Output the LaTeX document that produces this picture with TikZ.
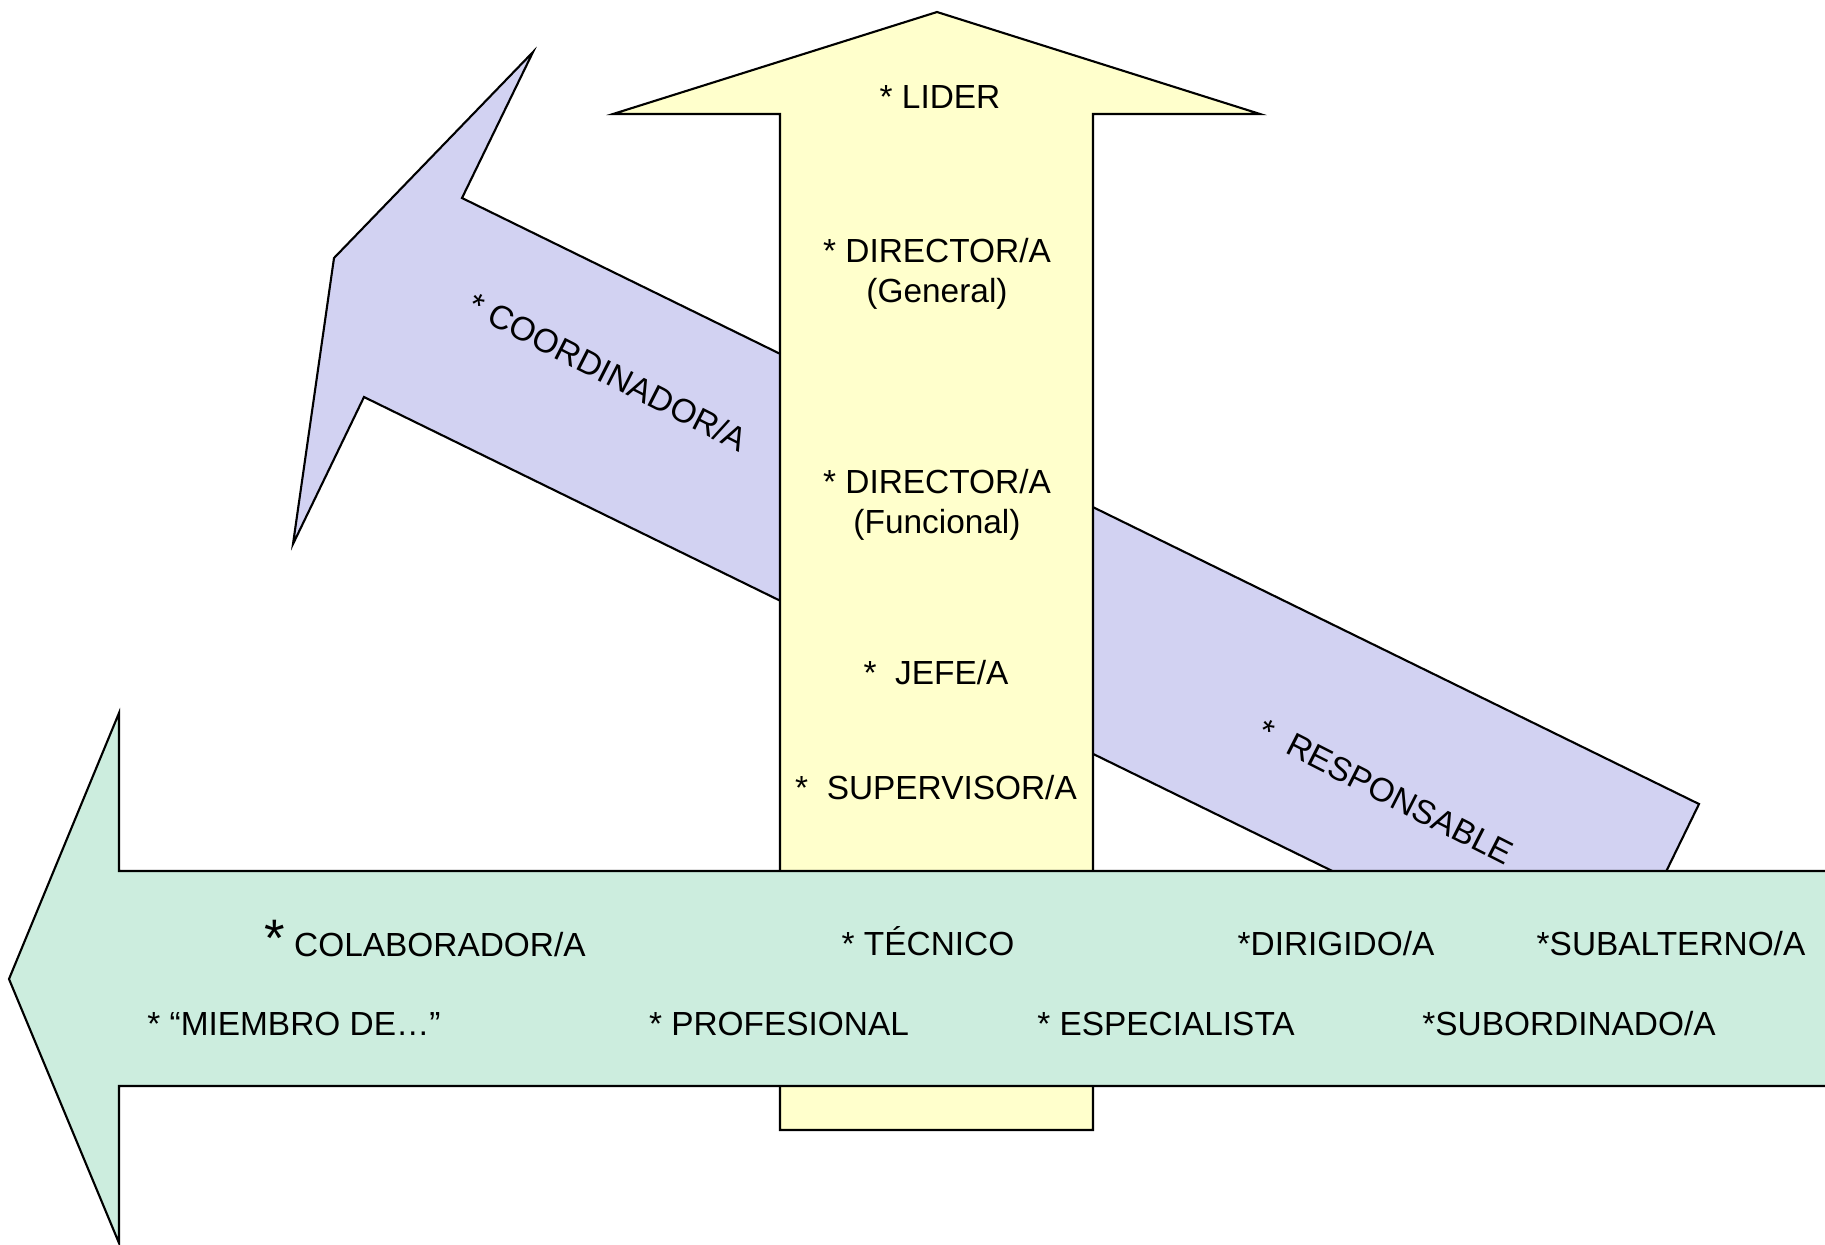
\documentclass[tikz,border=0pt]{standalone}
\usepackage{fontspec}
\setmainfont{Liberation Sans}
\definecolor{upfill}{RGB}{255,255,204}
\definecolor{diagfill}{RGB}{210,210,242}
\definecolor{basefill}{RGB}{204,237,222}
\begin{document}
\begin{tikzpicture}[x=0.01cm,y=-0.01cm,
  arrowshape/.style={draw=black, line width=0.6pt, line join=miter},
  lbl/.style={font=\fontsize{9.5}{11.5}\selectfont, inner sep=0pt, align=center},
]
\useasboundingbox (0,0) rectangle (1825,1244);
\clip (0,0) rectangle (1825,1244);

% diagonal arrow, pointing up-left (behind the others)
\draw[arrowshape, fill=diagfill]
  (462,198) -- (533,52) -- (334,258) -- (293,544) -- (364,397)
  -- (1602,1003) -- (1699,804) -- cycle;

% vertical arrow, pointing up
\draw[arrowshape, fill=upfill]
  (937,12) -- (1260,114) -- (1093,114) -- (1093,1130)
  -- (780,1130) -- (780,114) -- (613,114) -- cycle;

% horizontal arrow, pointing left (on top)
\fill[basefill]
  (1830,871) -- (119,871) -- (119,713) -- (9,979) -- (119,1243)
  -- (119,1086) -- (1830,1086) -- cycle;
\draw[arrowshape]
  (1830,871) -- (119,871) -- (119,713) -- (9,979) -- (119,1243)
  -- (119,1086) -- (1830,1086);

% labels on the vertical arrow
\node[lbl] (lider) at (940,97) {* LIDER};
\node[lbl] (dirgen) at (937,274) {* DIRECTOR/A\\(General)};
\node[lbl] (dirfun) at (937,505) {* DIRECTOR/A\\(Funcional)};
\node[lbl] (jefe) at (936,673) {*\ \ JEFE/A};
\node[lbl] (superv) at (936,788) {*\ \ SUPERVISOR/A};

% labels on the diagonal arrow
\node[lbl, rotate=-27] (coord) at (608,372) {* COORDINADOR/A};
\node[lbl, rotate=-27] (resp) at (1386,792) {*\ \ RESPONSABLE};

% labels on the horizontal arrow
\node[lbl] (colab) at (425,938) {{\fontsize{15}{15}\selectfont *} COLABORADOR/A};
\node[lbl] (tecnico) at (928,941) {* TÉCNICO};
\node[lbl] (dirigido) at (1336,944) {*DIRIGIDO/A};
\node[lbl] (subalt) at (1671,944) {*SUBALTERNO/A};
\node[lbl] (miembro) at (294,1024) {* “MIEMBRO DE…”};
\node[lbl] (profes) at (779,1024) {* PROFESIONAL};
\node[lbl] (especial) at (1166,1024) {* ESPECIALISTA};
\node[lbl] (subord) at (1569,1024) {*SUBORDINADO/A};
\end{tikzpicture}
\end{document}
